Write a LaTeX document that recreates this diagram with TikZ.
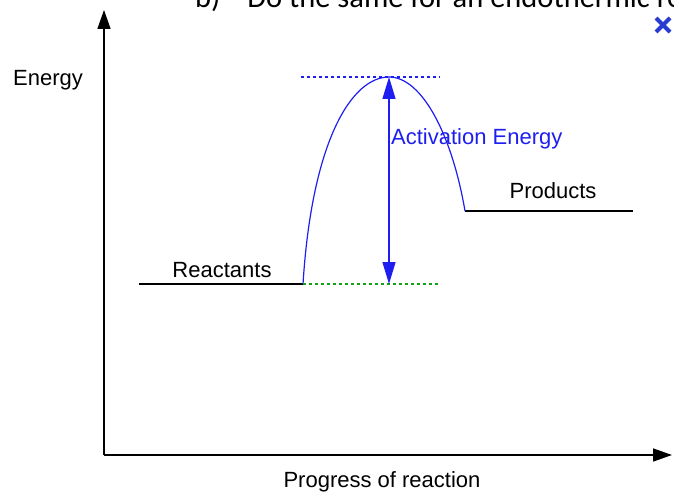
\documentclass[tikz,border=0pt]{standalone}
\usepackage{fontspec}
\setmainfont{Liberation Sans}
\newfontfamily\calibri{Carlito}
\definecolor{eblue}{RGB}{30,30,240}
\definecolor{egreen}{RGB}{20,160,20}
\definecolor{xblue}{RGB}{40,60,210}
\usetikzlibrary{arrows.meta,positioning}

\begin{document}
\begin{tikzpicture}[x=1pt,y=-1pt]
  \useasboundingbox (0,0) rectangle (674,494);
  \clip (0,0) rectangle (674,494);
  % Cut-off task line and close mark
  \node[anchor=base west,inner sep=0pt,font=\calibri\fontsize{30.5}{34}\selectfont]
        (task) at (195,8) {b)\hspace{27pt}Do the same for an endothermic reaction};
  \draw[xblue,line width=4pt] (656,18) -- (670,32) (670,18) -- (656,32);
  % Axes
  \coordinate (origin) at (104,455);
  \coordinate (ytip) at (104,10);
  \coordinate (xtip) at (672,455);
  \draw[line width=1.6pt,-{Triangle[width=13pt,length=19pt]}] (origin) -- (ytip);
  \draw[line width=1.6pt,-{Triangle[width=13pt,length=19pt]}] (origin) -- (xtip);
  \node[font=\fontsize{22}{26}\selectfont] (energy) at (48,80) {Energy};
  \node[anchor=base,inner sep=0pt,font=\fontsize{22}{26}\selectfont]
        (progress) at (382,487) {Progress of reaction};
  % Energy levels
  \coordinate (r0) at (139,284);
  \coordinate (r1) at (303,284);
  \coordinate (p0) at (465,211);
  \coordinate (p1) at (633,211);
  \coordinate (ts) at (389,77);
  \draw[line width=1.3pt] (r0) -- (r1);
  \draw[line width=1.3pt] (p0) -- (p1);
  \node[font=\fontsize{22}{26}\selectfont] (react) at (222,270) {Reactants};
  \node[font=\fontsize{22}{26}\selectfont] (prod) at (553,191) {Products};
  % Reaction path
  \draw[eblue,line width=1.2pt] (r1) .. controls (312,140) and (352,77) .. (ts)
        .. controls (422,77) and (452,135) .. (p0);
  % Activation energy
  \coordinate (topl) at (301,77);
  \coordinate (topr) at (440,77);
  \coordinate (botr) at (440,284);
  \coordinate (eabot) at (389,284);
  \draw[eblue,line width=1.3pt,dash pattern=on 3pt off 3pt] (topl) -- (topr);
  \draw[egreen,line width=1.3pt,dash pattern=on 3pt off 3pt] (r1) -- (botr);
  \draw[eblue,line width=1.4pt,{Triangle[width=13pt,length=22pt]}-{Triangle[width=13pt,length=22pt]}]
        (eabot) -- (ts);
  \node[anchor=west,inner sep=0pt,text=eblue,font=\fontsize{22}{26}\selectfont]
        (ea) at (391,139) {Activation Energy};
\end{tikzpicture}
\end{document}
